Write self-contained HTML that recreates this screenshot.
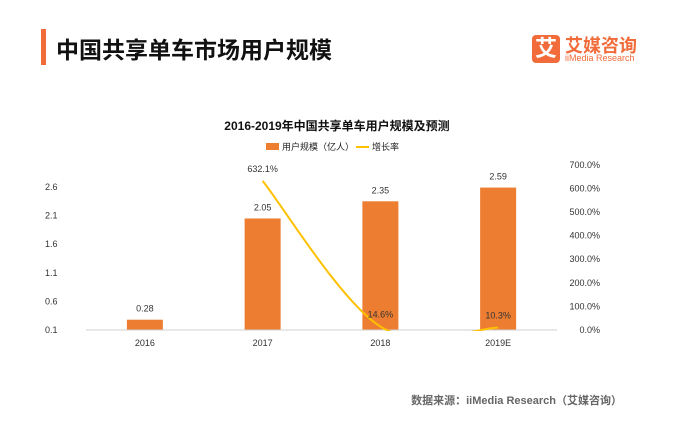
<!DOCTYPE html>
<html><head><meta charset="utf-8"><style>
body{margin:0;width:674px;height:421px;background:#fff;overflow:hidden;font-family:"Liberation Sans","Noto Sans CJK SC",sans-serif;position:relative}
.t{position:absolute;white-space:nowrap}
</style></head><body>
<div style="position:absolute;left:41px;top:29px;width:5px;height:36px;background:#f26b3a"></div>
<div class="t" style="left:56px;top:31px;font-size:23px;color:#111;font-weight:bold">中国共享单车市场用户规模</div>
<div style="position:absolute;left:532px;top:35px;width:28px;height:28px;background:#f26b3a;border-radius:4px;color:#fff;font-size:22px;line-height:28px;text-align:center;font-weight:bold">艾</div>
<div class="t" style="left:565px;top:32px;font-size:18px;color:#f26b3a;font-weight:bold">艾媒咨询</div>
<div class="t" style="left:565px;top:53px;font-size:9px;color:#f26b3a">iiMedia Research</div>
<div class="t" style="left:0;width:674px;text-align:center;top:117px;font-size:12px;font-weight:bold;color:#111">2016-2019年中国共享单车用户规模及预测</div>
<div style="position:absolute;left:266px;top:143px;width:13px;height:7px;background:#ed7d31"></div>
<div class="t" style="left:282px;top:140px;font-size:9px;color:#222">用户规模（亿人）</div>
<div style="position:absolute;left:356px;top:146px;width:13px;height:2px;background:#ffc000"></div>
<div class="t" style="left:372px;top:140px;font-size:9px;color:#222">增长率</div>
<svg id="c" width="674" height="421" style="position:absolute;left:0;top:0"><defs><clipPath id="pc"><rect x="0" y="0" width="674" height="331"/></clipPath></defs></svg>
<div class="t" style="right:52px;top:392px;font-size:11px;color:#666;font-weight:bold">数据来源：iiMedia Research（艾媒咨询）</div>
<script>
const categories=["2016","2017","2018","2019E"];
const users=[0.28,2.05,2.35,2.59];
const userLabels=["0.28","2.05","2.35","2.59"];
const growth=[null,632.1,14.6,10.3];
const growthLabels=["","632.1%","14.6%","10.3%"];
const leftTicks=[0.1,0.6,1.1,1.6,2.1,2.6];
const rightTicks=[0,100,200,300,400,500,600,700];
const NS="http://www.w3.org/2000/svg",svg=document.getElementById('c');
const x0=86,x1=557,bw=36;
const xc=i=>x0+(i+0.5)*(x1-x0)/categories.length;
const yl=v=>330-(v-0.1)/0.5*28.6;
const yr=v=>330-v/100*23.6;
function el(t,a,txt){const e=document.createElementNS(NS,t);for(const k in a)e.setAttribute(k,a[k]);if(txt!=null)e.textContent=txt;svg.appendChild(e);return e;}
leftTicks.forEach(v=>{const t=el('text',{x:45,y:yl(v)+3,'font-size':9,fill:'#333','font-family':'Liberation Sans'},v.toFixed(1));

});
rightTicks.forEach(v=>{const t=el('text',{x:600,y:yr(v)+3,'font-size':9,fill:'#333','text-anchor':'end','font-family':'Liberation Sans'},v.toFixed(1)+'%');

});
categories.forEach((c,i)=>{
const t=el('text',{x:xc(i),y:346,'font-size':9,fill:'#333','text-anchor':'middle','font-family':'Liberation Sans'},c);


const b=el('rect',{x:xc(i)-bw/2,y:yl(users[i]),width:bw,height:330-yl(users[i]),fill:'#ed7d31'});


const l=el('text',{x:xc(i),y:yl(users[i])-8,'font-size':9,fill:'#333','text-anchor':'middle','font-family':'Liberation Sans'},userLabels[i]);


});
let e=el('line',{x1:x0,x2:x1,y1:330,y2:330,stroke:'#d0d0d0','stroke-width':1});


const pts=[];growth.forEach((g,i)=>{if(g!=null)pts.push([xc(i),yr(g)]);});
let d='M'+pts[0][0]+','+pts[0][1];
for(let i=0;i<pts.length-1;i++){const p0=pts[i-1]||pts[i],p1=pts[i],p2=pts[i+1],p3=pts[i+2]||p2;
d+=' C'+(p1[0]+(p2[0]-p0[0])/6)+','+(p1[1]+(p2[1]-p0[1])/6)+' '+(p2[0]-(p3[0]-p1[0])/6)+','+(p2[1]-(p3[1]-p1[1])/6)+' '+p2[0]+','+p2[1];}
const ln=el('path',{d:d,fill:'none',stroke:'#ffc000','stroke-width':2,'clip-path':'url(#pc)'});


growth.forEach((g,i)=>{if(g==null)return;const t=el('text',{x:xc(i),y:yr(g)-9,'font-size':9,fill:'#333','text-anchor':'middle','font-family':'Liberation Sans'},growthLabels[i]);

});
</script>
</body></html>
